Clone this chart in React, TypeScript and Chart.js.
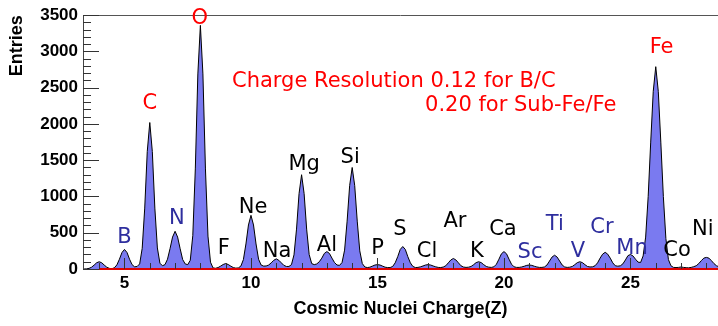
import React, { useEffect, useRef } from "react";
import { Chart, registerables } from "chart.js";

Chart.register(...registerables);

// Histogram bins: first bin centre and bin width (Z units)
const binStart = 3.4;
const binWidth = 0.1;

// Entries per bin (rows: Z-0.5 .. Z+0.4)
const entries: number[] = [
  0,
  /* Z=4  */ 2, 9, 25, 54, 86, 100, 86, 54, 25, 9,
  /* B 5  */ 4, 17, 57, 135, 227, 270, 227, 135, 60, 30,
  /* C 6  */ 35, 70, 285, 840, 1620, 2020, 1620, 840, 290, 80,
  /* N 7  */ 45, 60, 135, 280, 440, 520, 440, 280, 130, 70,
  /* O 8  */ 60, 120, 460, 1380, 2690, 3360, 2690, 1380, 454, 94,
  /* F 9  */ 15, 10, 20, 40, 62, 75, 62, 40, 20, 12,
  /* Ne 10*/ 15, 40, 130, 345, 607, 740, 607, 345, 135, 55,
  /* Na 11*/ 40, 42, 55, 85, 120, 140, 120, 85, 50, 35,
  /* Mg 12*/ 35, 60, 195, 550, 1040, 1300, 1040, 550, 200, 75,
  /* Al 13*/ 60, 70, 100, 150, 215, 240, 215, 150, 90, 55,
  /* Si 14*/ 50, 90, 260, 660, 1150, 1400, 1150, 660, 250, 75,
  /* P 15 */ 28, 20, 25, 40, 55, 60, 55, 40, 25, 20,
  /* S 16 */ 20, 35, 85, 170, 270, 310, 270, 170, 85, 35,
  /* Cl 17*/ 20, 22, 30, 42, 55, 60, 55, 42, 30, 22,
  /* Ar 18*/ 20, 27, 45, 85, 125, 145, 125, 85, 45, 27,
  /* K 19 */ 22, 25, 35, 60, 88, 100, 88, 60, 35, 25,
  /* Ca 20*/ 22, 30, 65, 135, 210, 240, 210, 135, 65, 30,
  /* Sc 21*/ 22, 22, 28, 38, 50, 55, 50, 38, 28, 22,
  /* Ti 22*/ 22, 28, 55, 110, 165, 190, 165, 110, 55, 28,
  /* V 23 */ 22, 25, 35, 60, 88, 100, 88, 60, 35, 28,
  /* Cr 24*/ 30, 45, 85, 150, 205, 230, 205, 150, 85, 45,
  /* Mn 25*/ 39, 44, 71, 125, 184, 200, 180, 135, 95, 90,
  /* Fe 26*/ 180, 440, 1000, 1750, 2450, 2790, 2450, 1750, 1000, 420,
  /* Co 27*/ 130, 45, 22, 20, 22, 28, 22, 18, 16, 22,
  /* Ni 28*/ 32, 45, 75, 115, 150, 160, 150, 115, 75, 45,
  30,
];

// Second (red) histogram: essentially empty baseline
const redZ = [4.0, 28.5];
const redEntries = [0, 0];

// Element names, their charge and colour group
const elementNames = ["B", "C", "N", "O", "F", "Ne", "Na", "Mg", "Al", "Si", "P", "S", "Cl", "Ar", "K", "Ca", "Sc", "Ti", "V", "Cr", "Mn", "Fe", "Co", "Ni"];
const elementGroup = ["blue", "red", "blue", "red", "black", "black", "black", "black", "black", "black", "black", "black", "black", "black", "black", "black", "blue", "blue", "blue", "blue", "blue", "red", "black", "black"];

// Label anchor (data coords: Z, Entries) for each element name
const labelZ = [5.0, 6.0, 7.07, 7.98, 8.93, 10.08, 11.03, 12.1, 13.0, 13.92, 15.0, 15.89, 16.96, 18.06, 18.93, 19.96, 21.03, 22.01, 22.92, 23.87, 25.06, 26.23, 26.84, 27.86];
const labelEntries = [431, 2275, 700, 3459, 283, 848, 242, 1440, 323, 1535, 283, 538, 242, 660, 242, 538, 229, 619, 242, 565, 283, 3056, 256, 538];

const noteLines = ["Charge Resolution 0.12 for B/C", "0.20 for Sub-Fe/Fe"];
const noteZ = [9.25, 16.88];
const noteEntries = [2584, 2248];

const xTitle = "Cosmic Nuclei Charge(Z)";
const yTitle = "Entries";

const groupColor: Record<string, string> = {
  red: "#ff0000",
  blue: "#2e2e9e",
  black: "#000000",
};

const labelFont = '21px "Comic Sans MS", "DejaVu Sans", sans-serif';

const overlayPlugin = {
  id: "overlay",
  afterDatasetsDraw(chart: any) {
    const { ctx, chartArea, scales } = chart;
    const x = scales.x;
    const y = scales.y;
    ctx.save();
    // top frame line
    ctx.strokeStyle = "#555555";
    ctx.lineWidth = 1;
    ctx.beginPath();
    ctx.moveTo(chartArea.left, Math.round(chartArea.top) + 0.5);
    ctx.lineTo(chartArea.right, Math.round(chartArea.top) + 0.5);
    ctx.stroke();

    // inward tick marks
    ctx.strokeStyle = "#333333";
    ctx.beginPath();
    for (let v = 0; v <= 3500; v += 100) {
      const py = Math.round(y.getPixelForValue(v)) + 0.5;
      const len = v % 500 === 0 ? 16 : 8;
      ctx.moveTo(chartArea.left, py);
      ctx.lineTo(chartArea.left + len, py);
    }
    for (let z = Math.ceil(x.min); z <= x.max; z++) {
      const px = Math.round(x.getPixelForValue(z)) + 0.5;
      const len = z % 5 === 0 ? 11 : 6;
      ctx.moveTo(px, chartArea.bottom);
      ctx.lineTo(px, chartArea.bottom - len);
    }
    ctx.stroke();

    // element labels
    ctx.font = labelFont;
    ctx.textAlign = "center";
    ctx.textBaseline = "middle";
    elementNames.forEach((name, i) => {
      ctx.fillStyle = groupColor[elementGroup[i]];
      ctx.fillText(name, x.getPixelForValue(labelZ[i]), y.getPixelForValue(labelEntries[i]));
    });

    // resolution note
    ctx.fillStyle = "#ff0000";
    ctx.textAlign = "left";
    noteLines.forEach((t, i) => {
      ctx.fillText(t, x.getPixelForValue(noteZ[i]), y.getPixelForValue(noteEntries[i]));
    });
    ctx.restore();
  },
};

export default function App() {
  const ref = useRef<HTMLCanvasElement | null>(null);

  useEffect(() => {
    document.body.style.margin = "0";
    if (!ref.current) return;
    const histo = entries.map((v, i) => ({ x: +(binStart + i * binWidth).toFixed(2), y: v }));
    const red = redZ.map((z, i) => ({ x: z, y: redEntries[i] }));
    const tickFont = { family: '"Liberation Sans", Arial, sans-serif', size: 17, weight: "bold" as const };
    const chart = new Chart(ref.current, {
      type: "line",
      data: {
        datasets: [
          {
            data: red,
            borderColor: "#e00000",
            borderWidth: 2,
            pointRadius: 0,
            fill: false,
            clip: false as any,
            order: 0,
          },
          {
            data: histo,
            borderColor: "#000000",
            borderWidth: 1,
            backgroundColor: "rgb(122,122,240)",
            fill: "origin",
            pointRadius: 0,
            tension: 0,
            order: 1,
          },
        ],
      },
      options: {
        animation: false,
        responsive: false,
        maintainAspectRatio: false,
        layout: { padding: { top: 9, left: 0, right: 0, bottom: 0 } },
        plugins: { legend: { display: false }, tooltip: { enabled: false } },
        scales: {
          x: {
            type: "linear",
            min: 3.36,
            max: 28.46,
            afterFit: (s: any) => {
              s.height = 57;
            },
            grid: { display: false, drawTicks: false },
            border: { display: true, color: "#000000", width: 1 },
            ticks: {
              stepSize: 5,
              includeBounds: false,
              padding: 4,
              color: "#000000",
              font: tickFont,
              maxRotation: 0,
              callback: (v: any) => String(v),
            },
            title: {
              display: true,
              text: xTitle,
              color: "#000000",
              font: { family: '"Liberation Sans", Arial, sans-serif', size: 18, weight: "bold" },
              padding: { top: 0, bottom: 6 },
            },
          },
          y: {
            type: "linear",
            min: 0,
            max: 3500,
            afterFit: (s: any) => {
              s.width = 83;
            },
            grid: { display: false, drawTicks: false },
            border: { display: true, color: "#444444", width: 1 },
            ticks: {
              stepSize: 500,
              padding: 5,
              color: "#000000",
              font: tickFont,
              callback: (v: any) => String(v),
            },
            title: {
              display: true,
              text: yTitle,
              align: "end",
              color: "#000000",
              font: { family: '"Liberation Sans", Arial, sans-serif', size: 18, weight: "bold" },
              padding: { top: 6, bottom: 0 },
            },
          },
        },
      },
      plugins: [overlayPlugin],
    });
    return () => chart.destroy();
  }, []);

  return (
    <div style={{ width: 718, height: 326 }}>
      <canvas ref={ref} width={718} height={326} style={{ display: "block" }} />
    </div>
  );
}
